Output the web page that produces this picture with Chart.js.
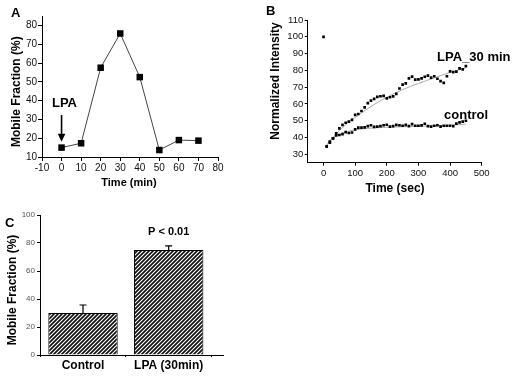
<!DOCTYPE html>
<html><head><meta charset="utf-8">
<script src="https://cdn.jsdelivr.net/npm/chart.js@4.4.1/dist/chart.umd.min.js"></script>
<style>
html,body{margin:0;padding:0;background:#fff;}
#wrap{position:relative;width:516px;height:376px;overflow:hidden;background:#fff;}
canvas{position:absolute;}
.lt{position:absolute;font:bold 13px "Liberation Sans",Arial,sans-serif;color:#000;line-height:1;}
</style></head><body>
<div id="wrap">
<canvas id="cA" width="240" height="200" style="left:0;top:0"></canvas>
<canvas id="cB" width="276" height="200" style="left:240px;top:0"></canvas>
<canvas id="cC" width="240" height="176" style="left:0;top:200px"></canvas>
<div class="lt" style="left:11px;top:6px">A</div>
<div class="lt" style="left:266px;top:4px">B</div>
<div class="lt" style="left:5px;top:216px">C</div>
</div>
<script>
// ---------- Panel A data ----------
const timeA = [0, 10, 20, 30, 40, 50, 60, 70];
const mobileA = [15, 17.3, 57.5, 75.7, 52.5, 13.7, 19, 18.7];

// ---------- Panel B data ----------
const timeB = [10,20,30,40,50,60,70,80,90,100,110,120,130,140,150,160,170,180,190,200,210,220,230,240,250,260,270,280,290,300,310,320,330,340,350,360,370,380,390,400,410,420,430,440,450];
const lpaB = [34.8,37.5,39.5,42.5,45.5,47.5,48.8,49.5,50.5,53.5,54,55.8,58,60.5,62,63,64.2,64.6,64.8,63.3,64,64.5,66,69.2,71.5,72.2,75.2,76.3,74.5,74.6,75.2,76.2,76.9,75.7,76.5,75,73.6,72.6,76.5,79.4,79,79.2,81.2,80.6,82.5];
const controlB = [34.5,37,39.5,41.3,41.5,42,43.2,42.7,43,44.8,45.9,45.9,46,46.8,47.3,46.3,46.5,46.8,47.3,47.6,46.5,46.8,47.5,47.3,47,47.5,46.8,48,47,47,47.2,48.2,46.8,46.5,47,47.3,46.5,47,47,47,46.8,48.3,49,49.5,50];
const prebleachTime = [0];
const prebleachValue = [100];
const fitTimeB = [10,25,50,75,100,150,200,250,300,350,400,450];
const lpaFitB = [35.5,39,44,48.5,52,58.5,64,68.5,72.2,75.5,78.8,81.5];
const controlFitB = [35,39,41.8,43.5,44.6,45.6,46.1,46.4,46.7,47,47.3,48];

// ---------- Panel C data ----------
const categoriesC = ['Control', 'LPA (30min)'];
const positionsC = [1, 2];
const valuesC = [30, 75];
const errorsC = [5.7, 3];

const FONT = '"Liberation Sans", Arial, sans-serif';
Chart.defaults.font.family = FONT;
Chart.defaults.color = '#000';

// texts drawn on canvases (pixel = canvas coords; data = via scales)
const TEXTS = {
  cA: [
    {text:'Mobile Fraction (%)', px:16.7, py:91.7, rot:-Math.PI/2, font:'bold 12px '+FONT},
    {text:'Time (min)', px:129, py:182.7, font:'bold 11px '+FONT},
    {text:'LPA', dx:1.5, dy:38.7, font:'bold 13px '+FONT}
  ],
  cB: [
    {text:'Normalized Intensity', px:35.5, py:81, rot:-Math.PI/2, font:'bold 12px '+FONT},
    {text:'Time (sec)', px:155, py:188.3, font:'bold 12px '+FONT},
    {text:'LPA_30 min', dx:359, dy:87.9, align:'left', font:'bold 13px '+FONT},
    {text:'control', dx:381, dy:53.3, align:'left', font:'bold 13px '+FONT}
  ],
  cC: [
    {text:'Mobile Fraction (%)', px:12.3, py:90, rot:-Math.PI/2, font:'bold 12px '+FONT},
    {text:'P < 0.01', dx:2, dy:88, font:'bold 11px '+FONT}
  ]
};

const textPlugin = {
  id: 'txt',
  afterDraw(chart) {
    const items = TEXTS[chart.canvas.id] || [];
    const ctx = chart.ctx;
    items.forEach(it => {
      let x = it.px, y = it.py;
      if (it.dx !== undefined) {
        x = chart.scales.x.getPixelForValue(it.dx);
        y = chart.scales.y.getPixelForValue(it.dy);
      }
      ctx.save();
      ctx.font = it.font;
      ctx.fillStyle = '#000';
      ctx.textAlign = it.align || 'center';
      ctx.textBaseline = 'middle';
      ctx.translate(x, y);
      if (it.rot) ctx.rotate(it.rot);
      ctx.fillText(it.text, 0, 0);
      ctx.restore();
    });
  }
};

const arrowPlugin = {
  id: 'arrow',
  afterDraw(chart) {
    const xs = chart.scales.x, ys = chart.scales.y, ctx = chart.ctx;
    const x = xs.getPixelForValue(0);
    const y0 = ys.getPixelForValue(32.3), y1 = ys.getPixelForValue(18.1);
    ctx.save();
    ctx.strokeStyle = '#000'; ctx.fillStyle = '#000'; ctx.lineWidth = 1.6;
    ctx.beginPath(); ctx.moveTo(x, y0); ctx.lineTo(x, y1 - 6); ctx.stroke();
    ctx.beginPath(); ctx.moveTo(x - 3.8, y1 - 8); ctx.lineTo(x + 3.8, y1 - 8); ctx.lineTo(x, y1); ctx.closePath(); ctx.fill();
    ctx.restore();
  }
};

const errPlugin = {
  id: 'err',
  afterDatasetsDraw(chart) {
    const meta = chart.getDatasetMeta(0), ys = chart.scales.y, ctx = chart.ctx;
    ctx.save();
    ctx.strokeStyle = '#000'; ctx.lineWidth = 1.2;
    meta.data.forEach((el, i) => {
      const top = ys.getPixelForValue(valuesC[i] + errorsC[i]);
      ctx.beginPath();
      ctx.moveTo(el.x, el.y); ctx.lineTo(el.x, top);
      ctx.moveTo(el.x - 3.5, top); ctx.lineTo(el.x + 3.5, top);
      ctx.stroke();
    });
    ctx.restore();
  }
};

function axis(o) {
  return Object.assign({
    type: 'linear',
    border: {display: true, color: '#000', width: 1},
    grid: {display: true, drawOnChartArea: false, drawTicks: true, tickLength: 4, color: '#000', lineWidth: 1},
  }, o);
}

const base = {
  responsive: false, animation: false, devicePixelRatio: 1,
  plugins: {legend: {display: false}, tooltip: {enabled: false}}
};

// ---------- Chart A ----------
new Chart(document.getElementById('cA'), {
  type: 'scatter',
  data: {datasets: [{
    data: timeA.map((t, i) => ({x: t, y: mobileA[i]})),
    showLine: true, borderColor: '#444', borderWidth: 1,
    pointStyle: 'rect', pointRadius: 4.6, pointBackgroundColor: '#000', pointBorderColor: '#000', pointBorderWidth: 0
  }]},
  options: Object.assign({}, base, {
    layout: {padding: {top: 16, right: 22, left: 0, bottom: 0}},
    scales: {
      x: axis({min: -10, max: 80, afterFit: s => { s.height = 43; },
        ticks: {stepSize: 10, includeBounds: false, color: '#111', font: {size: 10}, padding: 1, maxRotation: 0}}),
      y: axis({min: 10, max: 85, afterFit: s => { s.width = 42; },
        ticks: {stepSize: 10, includeBounds: false, color: '#111', font: {size: 10}, padding: 1}})
    }
  }),
  plugins: [textPlugin, arrowPlugin]
});

// ---------- Chart B ----------
const ptStyle = {showLine: false, pointStyle: 'rect', pointRadius: 1.9, pointBackgroundColor: '#000', pointBorderColor: '#000', pointBorderWidth: 0};
const fitStyle = {showLine: true, pointRadius: 0, borderColor: '#aaa', borderWidth: 1, tension: 0.35};
new Chart(document.getElementById('cB'), {
  type: 'scatter',
  data: {datasets: [
    Object.assign({data: timeB.map((t, i) => ({x: t, y: lpaB[i]}))}, ptStyle),
    Object.assign({data: timeB.map((t, i) => ({x: t, y: controlB[i]}))}, ptStyle),
    Object.assign({data: prebleachTime.map((t, i) => ({x: t, y: prebleachValue[i]}))}, ptStyle),
    Object.assign({data: fitTimeB.map((t, i) => ({x: t, y: lpaFitB[i]}))}, fitStyle),
    Object.assign({data: fitTimeB.map((t, i) => ({x: t, y: controlFitB[i]}))}, fitStyle)
  ]},
  options: Object.assign({}, base, {
    layout: {padding: {top: 20, right: 34.3, left: 0, bottom: 0}},
    scales: {
      x: axis({min: -50, max: 500, afterFit: s => { s.height = 37.3; },
        grid: {display: true, drawOnChartArea: false, drawTicks: true, tickLength: 3, color: '#000', lineWidth: 1},
        ticks: {stepSize: 100, includeBounds: false, color: '#111', font: {size: 9.5}, padding: 1.5, maxRotation: 0}}),
      y: axis({min: 25, max: 110, afterFit: s => { s.width = 67.7; },
        grid: {display: true, drawOnChartArea: false, drawTicks: true, tickLength: 3, color: '#000', lineWidth: 1},
        ticks: {stepSize: 10, includeBounds: false, color: '#111', font: {size: 9.5}, padding: 1.5}})
    }
  }),
  plugins: [textPlugin]
});

// ---------- Chart C ----------
function makeHatch() {
  const c = document.createElement('canvas'); c.width = 4; c.height = 4;
  const g = c.getContext('2d');
  g.fillStyle = '#fff'; g.fillRect(0, 0, 4, 4);
  g.strokeStyle = '#111'; g.lineWidth = 1.7;
  g.beginPath();
  g.moveTo(-1, 5); g.lineTo(5, -1);
  g.moveTo(-1, 1); g.lineTo(1, -1);
  g.moveTo(3, 5); g.lineTo(5, 3);
  g.stroke();
  return g.createPattern(c, 'repeat');
}
new Chart(document.getElementById('cC'), {
  type: 'bar',
  data: {datasets: [{
    data: positionsC.map((p, i) => ({x: p, y: valuesC[i]})),
    backgroundColor: makeHatch(), borderColor: '#000', borderWidth: 1,
    categoryPercentage: 1, barPercentage: 0.81
  }]},
  options: Object.assign({}, base, {
    layout: {padding: {top: 15, right: 17, left: 0, bottom: 0}},
    scales: {
      x: axis({min: 0.498, max: 2.634, offset: false, afterFit: s => { s.height = 21; },
        afterBuildTicks: s => { s.ticks = positionsC.map(v => ({value: v})); },
        grid: {display: true, drawOnChartArea: false, drawTicks: true, tickLength: 2, color: '#000', lineWidth: 1},
        ticks: {callback: (v, i) => categoriesC[i], color: '#000', font: {size: 12, weight: 'bold'}, padding: 1, maxRotation: 0}}),
      y: axis({min: 0, max: 100, afterFit: s => { s.width = 40; },
        grid: {display: true, drawOnChartArea: false, drawTicks: true, tickLength: 3, color: '#000', lineWidth: 1},
        ticks: {stepSize: 20, includeBounds: false, color: '#555', font: {size: 8}, padding: 2}})
    }
  }),
  plugins: [textPlugin, errPlugin]
});
</script>
</body></html>
